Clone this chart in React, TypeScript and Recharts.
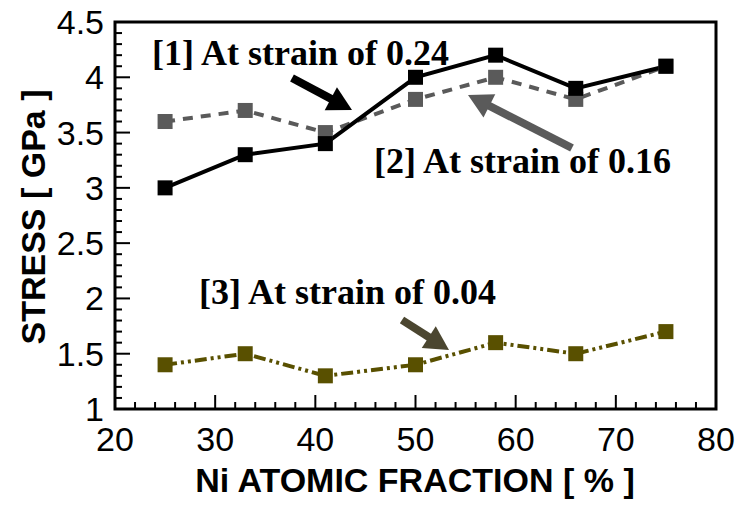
import { LineChart, Line, XAxis, YAxis, ReferenceArea } from "recharts";

const niFraction = [25, 33, 41, 50, 58, 66, 75];
const stressAt024 = [3.0, 3.3, 3.4, 4.0, 4.2, 3.9, 4.1];
const stressAt016 = [3.6, 3.7, 3.5, 3.8, 4.0, 3.8, 4.1];
const stressAt004 = [1.4, 1.5, 1.3, 1.4, 1.6, 1.5, 1.7];

const xMajorTicks = [20, 30, 40, 50, 60, 70, 80];
const yMajorTicks = [1, 1.5, 2, 2.5, 3, 3.5, 4, 4.5];

// minor ticks: 5 per decade on x, 5 per half unit on y
const withMinor = (major: number[], parts: number) => {
  const out: number[] = [];
  for (let i = 0; i < major.length - 1; i++) {
    const step = (major[i + 1] - major[i]) / parts;
    for (let j = 0; j < parts; j++) out.push(Math.round((major[i] + j * step) * 1000) / 1000);
  }
  out.push(major[major.length - 1]);
  return out;
};
const xTicks = withMinor(xMajorTicks, 5);
const yTicks = withMinor(yMajorTicks, 5);

const data = niFraction.map((x, i) => ({
  x,
  s1: stressAt024[i],
  s2: stressAt016[i],
  s3: stressAt004[i]
}));

const SANS = "'Liberation Sans', Arial, sans-serif";
const SERIF = "'Liberation Serif', 'Times New Roman', serif";

function XTick({ x, y, payload }: any) {
  const major = xMajorTicks.includes(payload.value);
  return (
    <g>
      <line x1={x} x2={x} y1={y} y2={y - (major ? 14 : 7)} stroke="#000" strokeWidth={2} />
      {major && (
        <text x={x} y={y + 42} textAnchor="middle" fontFamily={SANS} fontSize={34} fill="#000">
          {payload.value}
        </text>
      )}
    </g>
  );
}

function YTick({ x, y, payload }: any) {
  const major = yMajorTicks.includes(payload.value);
  return (
    <g>
      <line x1={x} x2={x + (major ? 15 : 7)} y1={y} y2={y} stroke="#000" strokeWidth={2} />
      {major && (
        <text x={x - 11} y={y + 12} textAnchor="end" fontFamily={SANS} fontSize={34} fill="#000">
          {payload.value}
        </text>
      )}
    </g>
  );
}

const squareDot = (color: string) => (props: any) => (
  <rect key={props.index} x={props.cx - 7.5} y={props.cy - 7.5} width={15} height={15} fill={color} />
);

function Arrow({ from, to, color }: { from: [number, number]; to: [number, number]; color: string }) {
  const dx = to[0] - from[0];
  const dy = to[1] - from[1];
  const len = Math.hypot(dx, dy);
  const ux = dx / len;
  const uy = dy / len;
  const bx = to[0] - ux * 24;
  const by = to[1] - uy * 24;
  const px = -uy;
  const py = ux;
  return (
    <g>
      <line x1={from[0]} y1={from[1]} x2={bx + ux * 2} y2={by + uy * 2} stroke={color} strokeWidth={8} />
      <polygon
        points={`${to[0]},${to[1]} ${bx + px * 13},${by + py * 13} ${bx - px * 13},${by - py * 13}`}
        fill={color}
      />
    </g>
  );
}

export default function App() {
  return (
    <div style={{ position: "absolute", left: 0, top: 0, width: 740, height: 506, background: "#fff" }}>
      <LineChart width={740} height={506} data={data} margin={{ top: 22, right: 24, left: 0, bottom: 0 }}>
        <XAxis
          dataKey="x"
          type="number"
          domain={[20, 80]}
          ticks={xTicks}
          interval={0}
          tick={<XTick />}
          tickLine={false}
          tickSize={0}
          tickMargin={0}
          axisLine={false}
          height={97}
        />
        <YAxis
          type="number"
          domain={[1, 4.5]}
          ticks={yTicks}
          interval={0}
          tick={<YTick />}
          tickLine={false}
          tickSize={0}
          tickMargin={0}
          axisLine={false}
          width={115}
        />
        <ReferenceArea x1={20} x2={80} y1={1} y2={4.5} fill="none" stroke="#000" strokeWidth={3} />
        <Line
          dataKey="s3"
          stroke="#595000"
          strokeWidth={4}
          strokeDasharray="12 4 3 4 3 4"
          dot={squareDot("#595000")}
          isAnimationActive={false}
        />
        <Line
          dataKey="s2"
          stroke="#5a5a5a"
          strokeWidth={4}
          strokeDasharray="10 8"
          dot={squareDot("#5a5a5a")}
          isAnimationActive={false}
        />
        <Line
          dataKey="s1"
          stroke="#000"
          strokeWidth={4}
          dot={squareDot("#000")}
          isAnimationActive={false}
        />
      </LineChart>
      <svg width={740} height={506} style={{ position: "absolute", left: 0, top: 0, pointerEvents: "none" }}>
        <text x={45} y={217} transform="rotate(-90 45 217)" textAnchor="middle" fontFamily={SANS} fontWeight="bold" fontSize={34}>
          STRESS [ GPa ]
        </text>
        <text x={415} y={492} textAnchor="middle" fontFamily={SANS} fontWeight="bold" fontSize={34}>
          Ni ATOMIC FRACTION [ % ]
        </text>
        <text x={152} y={65} fontFamily={SERIF} fontWeight="bold" fontSize={36}>
          [1] At strain of 0.24
        </text>
        <text x={374} y={173} fontFamily={SERIF} fontWeight="bold" fontSize={36}>
          [2] At strain of 0.16
        </text>
        <text x={199} y={304} fontFamily={SERIF} fontWeight="bold" fontSize={36}>
          [3] At strain of 0.04
        </text>
        <Arrow from={[292, 78]} to={[352, 110]} color="#000" />
        <Arrow from={[572, 148]} to={[468, 95]} color="#5a5a5a" />
        <Arrow from={[402, 320]} to={[449, 350]} color="#4b4630" />
      </svg>
    </div>
  );
}
